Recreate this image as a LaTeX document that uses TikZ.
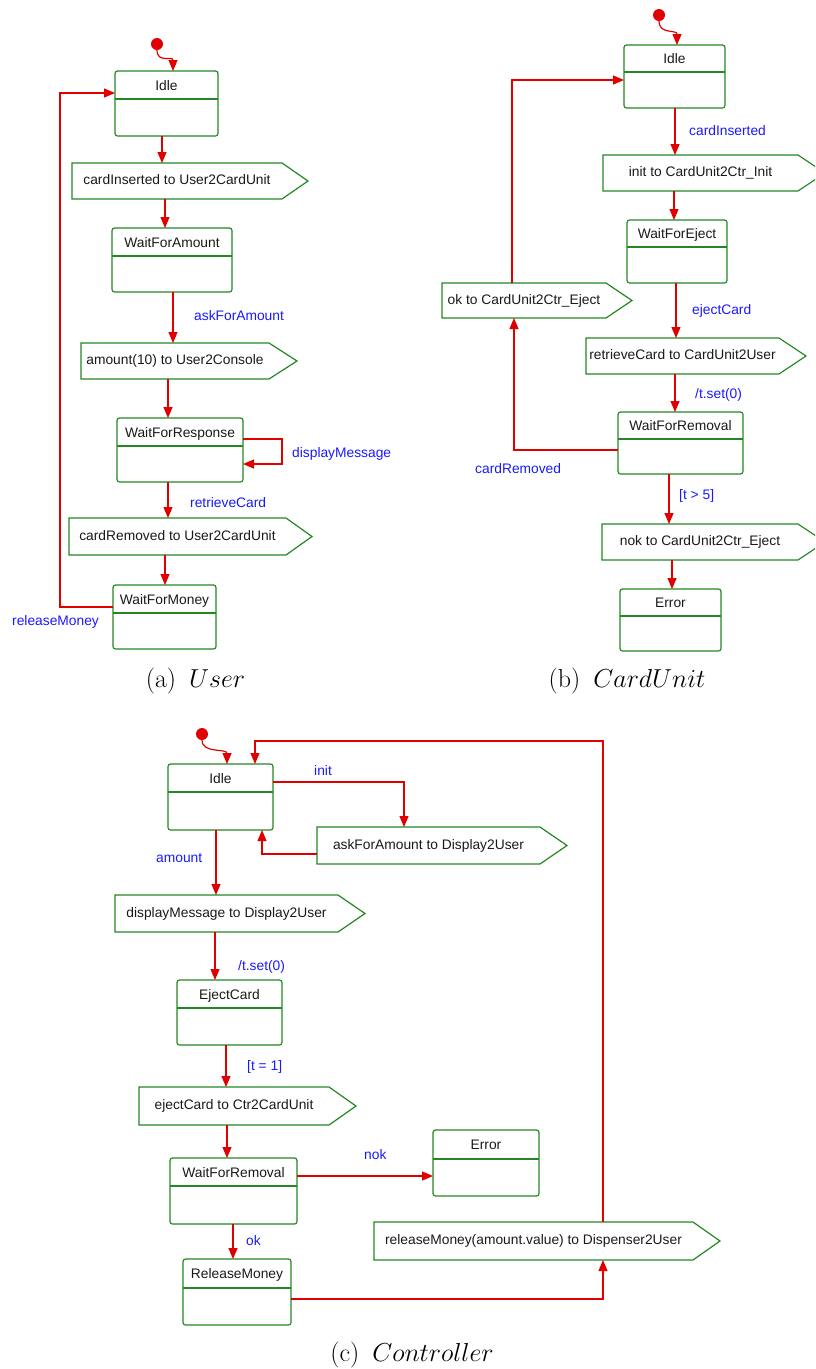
\RequirePackage{fix-cm}
\documentclass[tikz,border=0pt]{standalone}
\usepackage{fontspec}
\newfontfamily\lsans{Liberation Sans}
\usetikzlibrary{arrows.meta}

\definecolor{stgreen}{RGB}{35,135,35}
\definecolor{trred}{RGB}{225,0,0}
\definecolor{evblue}{RGB}{25,25,255}
\definecolor{ink}{RGB}{25,25,25}

\tikzset{
  greenline/.style={draw=stgreen, line width=1.2pt},
  statebox/.style={greenline, rectangle, rounded corners=2.5pt, inner sep=0pt, outer sep=0pt},
  sigtext/.style={rectangle, inner sep=0pt, outer sep=0pt, text=ink,
    font=\lsans\fontsize{13.8}{16}\selectfont, text height=10pt, text depth=3pt},
  titletext/.style={anchor=base, inner sep=0pt, text=ink, font=\lsans\fontsize{13.8}{16}\selectfont},
  trans/.style={draw=trred, line width=1.2pt, -{Triangle[length=11pt,width=9pt]}},
  evlabel/.style={anchor=base west, inner sep=0pt, text=evblue, font=\lsans\fontsize{13.8}{16}\selectfont},
  caption/.style={anchor=base, inner sep=0pt, font=\fontsize{26}{30}\selectfont},
  initdot/.style={circle, fill=trred, minimum size=12pt, inner sep=0pt, outer sep=0pt},
}

% state: name, left, top, right, bottom, divider, title
\newcommand\stbox[7]{%
  \node[statebox, anchor=north west, minimum width={#4-#2}, minimum height={#5-#3}] (#1) at (#2,#3) {};
  \draw[greenline] (#2,#6) -- (#4,#6);
  \node[titletext] (#1-title) at ({(#2+#4)/2},{(#3+#6)/2+5}) {#7};
}
% send signal: name, left, top, right, bottom, tip x, text
\newcommand\sigbox[7]{%
  \node[sigtext, anchor=north west, minimum width={#4-#2}, minimum height={#5-#3}] (#1) at (#2,#3) {#7};
  \draw[greenline] (#1.north west) -- (#1.north east) -- (#6,{(#3+#5)/2}) -- (#1.south east) -- (#1.south west) -- cycle;
}

\begin{document}
\begin{tikzpicture}[x=1pt, y=-1pt]
\useasboundingbox (0,0) rectangle (815,1369);
\clip (0,0) rectangle (815,1369);

% ---------------- (a) User ----------------
\node[initdot] (uDot) at (157,44) {};
\stbox{uIdle}{115}{71}{218}{136}{99}{Idle}
\sigbox{uS1}{72}{163}{282}{199}{308}{cardInserted to User2CardUnit}
\stbox{uWA}{112}{228}{232}{292}{256}{WaitForAmount}
\sigbox{uS2}{81}{343}{269}{379}{297}{amount(10) to User2Console}
\stbox{uWR}{117}{418}{243}{482}{446}{WaitForResponse}
\sigbox{uS3}{69}{518}{286}{555}{312}{cardRemoved to User2CardUnit}
\stbox{uWM}{113}{585}{216}{649}{613}{WaitForMoney}

\draw[trans] (uDot.south) .. controls +(0,14) and +(0,-16) .. (173,0 |- uIdle.north);
\draw[trans] (162,0 |- uIdle.south) -- (162,0 |- uS1.north);
\draw[trans] (165,0 |- uS1.south) -- (165,0 |- uWA.north);
\draw[trans] (173,0 |- uWA.south) -- (173,0 |- uS2.north);
\draw[trans] (168,0 |- uS2.south) -- (168,0 |- uWR.north);
\draw[trans] (uWR.east |- 0,439) -| (282,464) -- (uWR.east |- 0,464);
\draw[trans] (168,0 |- uWR.south) -- (168,0 |- uS3.north);
\draw[trans] (165,0 |- uS3.south) -- (165,0 |- uWM.north);
\draw[trans] (uWM.west |- 0,607) -| (60,93) -- (uIdle.west |- 0,93);

\node[evlabel] (uL1) at (194,320) {askForAmount};
\node[evlabel] (uL2) at (292,457) {displayMessage};
\node[evlabel] (uL3) at (190,507) {retrieveCard};
\node[evlabel] (uL4) at (12,625) {releaseMoney};

\node[caption] (capA) at (195.5,687) {(a)\hspace{0.5em}$User$};

% ---------------- (b) CardUnit ----------------
\node[initdot] (bDot) at (659,15) {};
\stbox{bIdle}{624}{45}{725}{108}{72}{Idle}
\sigbox{bS1}{603}{155}{798}{191}{825}{init to CardUnit2Ctr\_Init}
\stbox{bWE}{627}{220}{727}{283}{247}{WaitForEject}
\sigbox{bOk}{442}{283}{606}{318}{632}{ok to CardUnit2Ctr\_Eject}
\sigbox{bS2}{586}{338}{779}{374}{806}{retrieveCard to CardUnit2User}
\stbox{bWR}{618}{412}{743}{474}{439}{WaitForRemoval}
\sigbox{bS3}{602}{524}{798}{560}{825}{nok to CardUnit2Ctr\_Eject}
\stbox{bErr}{620}{589}{721}{651}{616}{Error}

\draw[trans] (bDot.south) .. controls +(0,14) and +(0,-16) .. (677,0 |- bIdle.north);
\draw[trans] (675,0 |- bIdle.south) -- (675,0 |- bS1.north);
\draw[trans] (674,0 |- bS1.south) -- (674,0 |- bWE.north);
\draw[trans] (676,0 |- bWE.south) -- (676,0 |- bS2.north);
\draw[trans] (675,0 |- bS2.south) -- (675,0 |- bWR.north);
\draw[trans] (bWR.west |- 0,450) -| (514,0 |- bOk.south);
\draw[trans] (512,0 |- bOk.north) |- (bIdle.west |- 0,80);
\draw[trans] (669,0 |- bWR.south) -- (669,0 |- bS3.north);
\draw[trans] (672,0 |- bS3.south) -- (672,0 |- bErr.north);

\node[evlabel] (bL1) at (689,135) {cardInserted};
\node[evlabel] (bL2) at (692,314) {ejectCard};
\node[evlabel] (bL3) at (695,398) {/t.set(0)};
\node[evlabel] (bL4) at (475,473) {cardRemoved};
\node[evlabel] (bL5) at (679,499) {[t > 5]};

\node[caption] (capB) at (627,687) {(b)\hspace{0.5em}$CardUnit$};

% ---------------- (c) Controller ----------------
\node[initdot] (cDot) at (202,734) {};
\stbox{cIdle}{168}{764}{273}{830}{792}{Idle}
\sigbox{cS1}{317}{827}{540}{864}{567}{askForAmount to Display2User}
\sigbox{cS2}{115}{895}{338}{932}{365}{displayMessage to Display2User}
\stbox{cEC}{177}{980}{282}{1045}{1008}{EjectCard}
\sigbox{cS3}{139}{1087}{329}{1125}{356}{ejectCard to Ctr2CardUnit}
\stbox{cWR}{170}{1158}{297}{1224}{1186}{WaitForRemoval}
\stbox{cErr}{433}{1130}{539}{1196}{1159}{Error}
\stbox{cRM}{183}{1259}{291}{1325}{1288}{ReleaseMoney}
\sigbox{cS5}{374}{1222}{693}{1260}{720}{releaseMoney(amount.value) to Dispenser2User}

\draw[trans] (cDot.south) .. controls +(0,14) and +(0,-16) .. (227,0 |- cIdle.north);
\draw[trans] (cIdle.east |- 0,782) -| (404,0 |- cS1.north);
\draw[trans] (cS1.west |- 0,854) -| (262,0 |- cIdle.south);
\draw[trans] (216,0 |- cIdle.south) -- (216,0 |- cS2.north);
\draw[trans] (215,0 |- cS2.south) -- (215,0 |- cEC.north);
\draw[trans] (226,0 |- cEC.south) -- (226,0 |- cS3.north);
\draw[trans] (227,0 |- cS3.south) -- (227,0 |- cWR.north);
\draw[trans] (cWR.east |- 0,1176) -- (cErr.west |- 0,1176);
\draw[trans] (233,0 |- cWR.south) -- (233,0 |- cRM.north);
\draw[trans] (cRM.east |- 0,1299) -| (603,0 |- cS5.south);
\draw[trans] (603,0 |- cS5.north) |- (603,741) -| (255,0 |- cIdle.north);

\node[evlabel] (cL1) at (314,775) {init};
\node[evlabel] (cL2) at (156,862) {amount};
\node[evlabel] (cL3) at (238,970) {/t.set(0)};
\node[evlabel] (cL4) at (247,1070) {[t = 1]};
\node[evlabel] (cL5) at (364,1159) {nok};
\node[evlabel] (cL6) at (246,1245) {ok};

\node[caption] (capC) at (412,1361) {(c)\hspace{0.5em}$Controller$};
\end{tikzpicture}
\end{document}
